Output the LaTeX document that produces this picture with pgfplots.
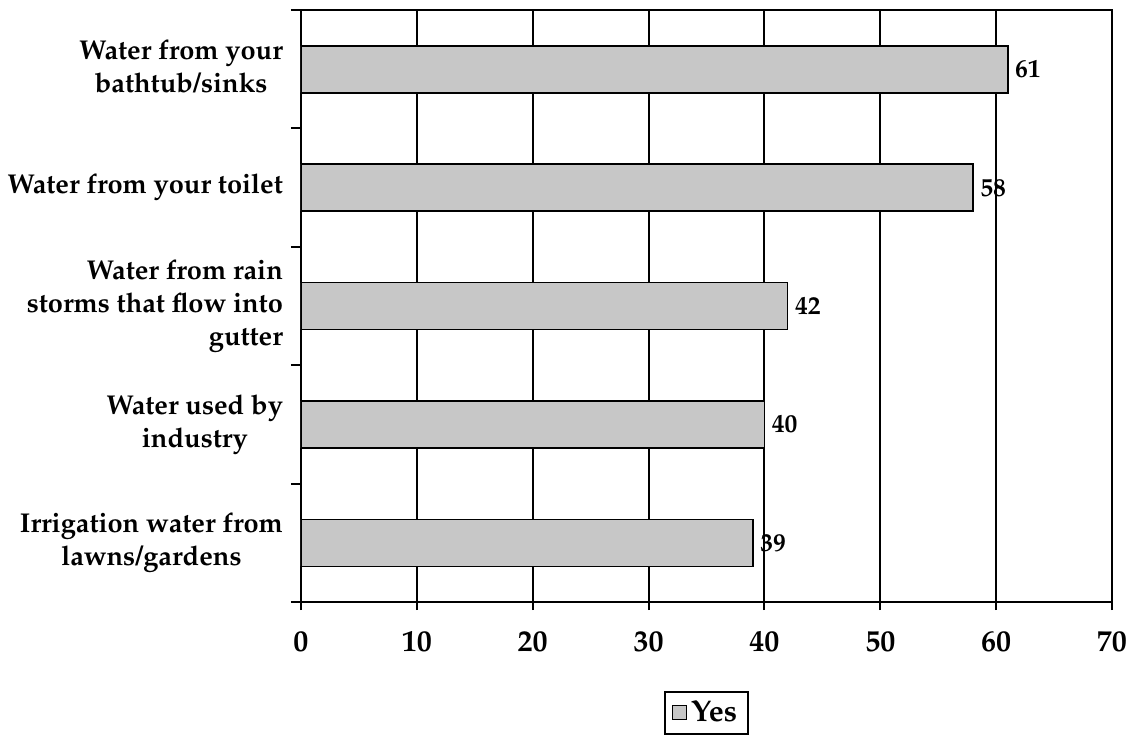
\documentclass[border=0pt]{standalone}
\usepackage[T1]{fontenc}
\usepackage{mathpazo}
\usepackage{pgfplots}
\pgfplotsset{compat=1.18}
\newcommand{\lbl}{\fontsize{13.6}{16.5}\selectfont\bfseries}
\newcommand{\num}{\fontsize{12.8}{15}\selectfont\bfseries}
\newcommand{\tck}{\fontsize{15}{18}\selectfont\bfseries}
\newcommand{\cl}[1]{\begin{tabular}{@{}c@{}}#1\end{tabular}}
\newcommand{\rl}[1]{\begin{tabular}{@{}r@{}}#1\end{tabular}}
\begin{document}
\begin{tikzpicture}
\begin{axis}[
    scale only axis,
    width=405.5pt, height=296pt,
    xbar, bar width=23.5pt,
    xmin=0, xmax=70,
    ymin=-0.5, ymax=4.5,
    y dir=reverse,
    /pgf/number format/assume math mode=true,
    xtick={0,10,...,70},
    ytick={0,1,2,3,4},
    yticklabels={{\cl{Water from your\\bathtub/sinks}},
                 {Water from your toilet},
                 {\rl{Water from rain\\storms that flow into\\gutter}},
                 {\cl{Water used by\\industry}},
                 {\cl{Irrigation water from\\lawns/gardens}}},
    minor ytick={-0.5,0.5,1.5,2.5,3.5,4.5},
    tick pos=left,
    tick align=outside,
    major tick length=4pt,
    minor tick length=5pt,
    every major y tick/.style={draw=none},
    tick style={black, line width=1pt},
    xmajorgrids,
    grid style={black, line width=1pt},
    axis line style={line width=1pt},
    yticklabel style={font=\lbl, xshift=-1.5pt},
    xticklabel style={font=\tck, yshift=-7pt},
    nodes near coords,
    nodes near coords style={font=\num, anchor=west},
    legend style={at={(0.5,-0.15)}, anchor=north, draw=black,
                  line width=1pt, font=\tck, inner xsep=3.5pt, inner ysep=2.5pt},
    legend image code/.code={
        \draw[fill=black!22, draw=black, line width=0.6pt]
            (0pt,-3.5pt) rectangle (7pt,3.5pt);},
]
\addplot[fill=black!22, draw=black, line width=0.8pt]
    coordinates {(61,0) (58,1) (42,2) (40,3) (39,4)};
\legend{Yes}
\end{axis}
\pgfresetboundingbox
\path[use as bounding box] (-150.5pt,-66.5pt) rectangle (415.5pt,301pt);
\end{tikzpicture}
\end{document}
